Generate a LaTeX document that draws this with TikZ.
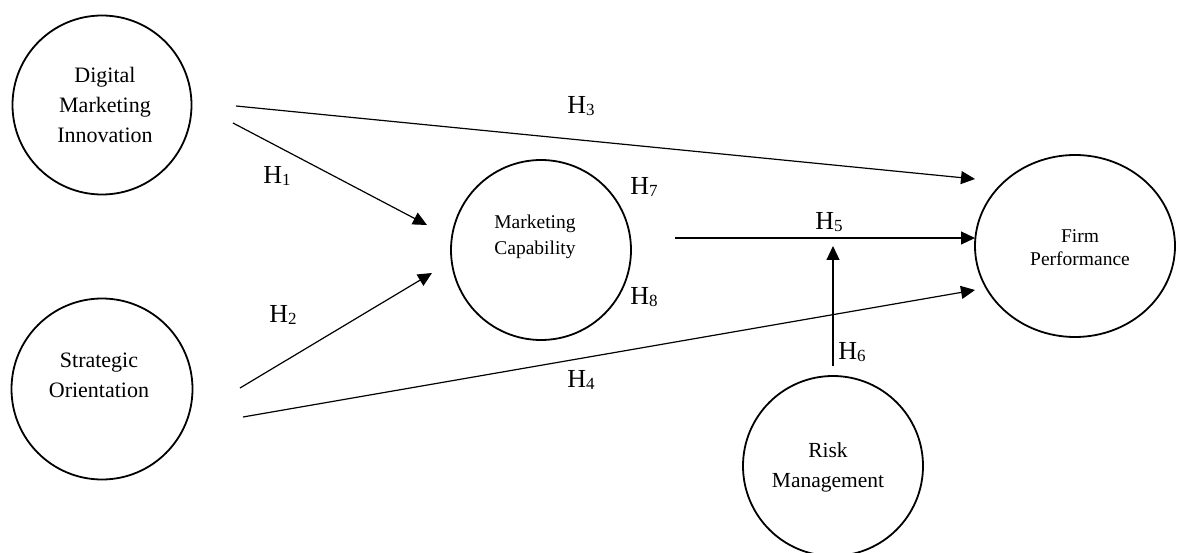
\documentclass[tikz,border=0pt]{standalone}
\usepackage{fontspec}
\setmainfont{Liberation Serif}
\usetikzlibrary{arrows.meta,shapes.geometric}
\newcommand\hyplab[1]{\fontsize{26}{26}\selectfont H\raisebox{-2.5pt}{\fontsize{17}{17}\selectfont #1}}
\begin{document}
\begin{tikzpicture}[x=1pt,y=-1pt,
  construct/.style={draw,circle,line width=1.8pt,inner sep=0pt,minimum size=#1},
  ovalshape/.style={draw,ellipse,line width=1.8pt,inner sep=0pt,minimum width=200pt,minimum height=182pt},
  bigtxt/.style={align=center,inner sep=0pt,font=\fontsize{22}{30}\selectfont},
  smalltxt/.style={align=center,inner sep=0pt,font=\fontsize{19.5}{24.5}\selectfont},
  hlab/.style={inner sep=0pt},
  path/.style={line width=1.2pt,-{Triangle[length=14pt,width=13pt]}}]
\useasboundingbox (0,0) rectangle (1178,553);

% constructs
\node[construct=179pt] (dmi) at (102,105) {};
\node[bigtxt] (dmit) at (105,105) {Digital\\Marketing\\Innovation};
\node[construct=181pt] (so) at (102,389) {};
\node[bigtxt] (sot) at (99,375) {Strategic\\Orientation};
\node[construct=180pt] (mc) at (541,250) {};
\node[smalltxt,font=\fontsize{19.5}{26}\selectfont] (mct) at (535,237) {Marketing\\Capability};
\node[ovalshape] (fp) at (1075,246) {};
\node[smalltxt,font=\fontsize{19.5}{23}\selectfont] (fpt) at (1080,248) {Firm\\Performance};
\node[construct=180pt] (rm) at (833,466) {};
\node[bigtxt,font=\fontsize{21.5}{30}\selectfont] (rmt) at (828,467) {Risk\\Management};

% connector end points
\coordinate (h3s) at (236,106);
\coordinate (h3e) at (975,179);
\coordinate (h1s) at (233,123);
\coordinate (h1e) at (427,225);
\coordinate (h2s) at (240,388);
\coordinate (h2e) at (432,273);
\coordinate (h4s) at (243,417);
\coordinate (h4e) at (975,290);
\coordinate (h5s) at (675,238);
\coordinate (h5e) at (975,238);
\coordinate (h6s) at (833,366);
\coordinate (h6e) at (833,246);

\draw[path] (h3s) -- (h3e);
\draw[path] (h1s) -- (h1e);
\draw[path] (h2s) -- (h2e);
\draw[path] (h4s) -- (h4e);
\draw[path] (h5s) -- (h5e);
\draw[path] (h6s) -- (h6e);

% hypothesis labels
\node[hlab] (l1) at (277,176) {\hyplab{1}};
\node[hlab] (l2) at (283,315) {\hyplab{2}};
\node[hlab] (l3) at (581,106) {\hyplab{3}};
\node[hlab] (l4) at (581,380) {\hyplab{4}};
\node[hlab] (l5) at (829,222) {\hyplab{5}};
\node[hlab] (l6) at (852,352) {\hyplab{6}};
\node[hlab] (l7) at (644,187) {\hyplab{7}};
\node[hlab] (l8) at (644,297) {\hyplab{8}};
\end{tikzpicture}
\end{document}
